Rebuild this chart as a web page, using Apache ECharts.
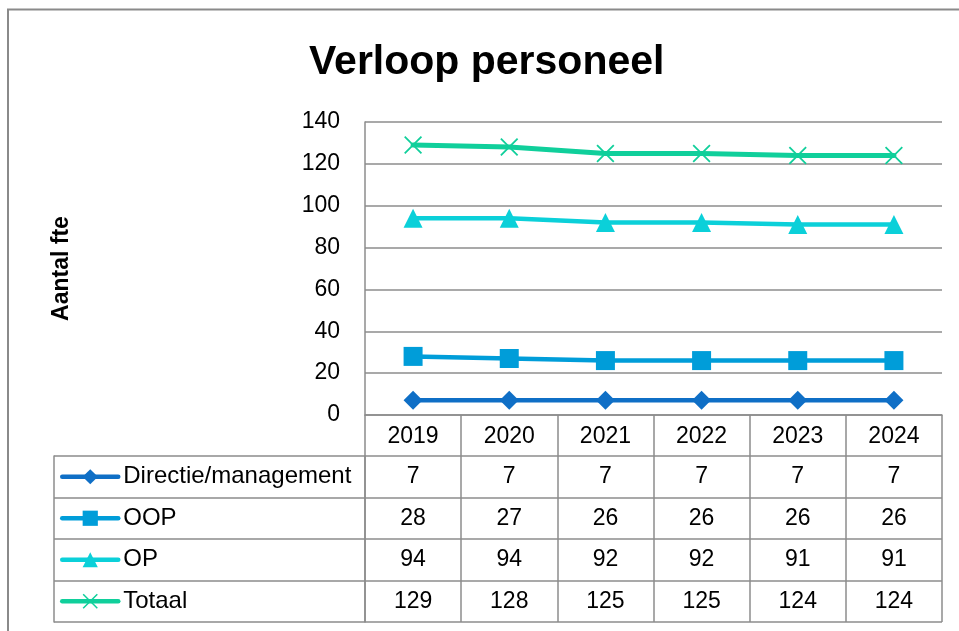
<!DOCTYPE html>
<html>
<head>
<meta charset="utf-8">
<script src="https://cdn.jsdelivr.net/npm/echarts@6/dist/echarts.min.js"></script>
<style>
html,body{margin:0;padding:0;background:#fff;}
#chart{width:959px;height:631px;}
</style>
</head>
<body>
<div id="chart"></div>
<script>
const years = ['2019', '2020', '2021', '2022', '2023', '2024'];
const seriesNames = ['Directie/management', 'OOP', 'OP', 'Totaal'];
const directie = [7, 7, 7, 7, 7, 7];
const oop = [28, 27, 26, 26, 26, 26];
const op = [94, 94, 92, 92, 91, 91];
const totaal = [129, 128, 125, 125, 124, 124];
const yTicks = { min: 0, max: 140, interval: 20 };

const colors = ['#0F6FC6', '#009DD9', '#0BD0D9', '#10CF9B'];
const gridGray = '#8c8c8c';
const FONT = 'Liberation Sans';
const xPath = 'path://M0,1.4 L1.4,0 L10,8.6 L18.6,0 L20,1.4 L11.4,10 L20,18.6 L18.6,20 L10,11.4 L1.4,20 L0,18.6 L8.6,10 Z';

const allValues = [directie, oop, op, totaal];
const tableData = [];
allValues.forEach((arr, r) => arr.forEach((v, c) => tableData.push([c, r, v])));

const symbols = ['diamond', 'rect', 'triangle', xPath];
const sizes = [19, 19, 19, 18];
const lineSeries = allValues.map((arr, i) => ({
  name: seriesNames[i],
  type: 'line',
  xAxisIndex: 0,
  yAxisIndex: 0,
  data: arr,
  symbol: symbols[i],
  symbolSize: sizes[i],
  showAllSymbol: true,
  lineStyle: { color: colors[i], width: i === 3 ? 5 : 4.5, cap: 'round' },
  itemStyle: { color: colors[i] },
  emphasis: { disabled: true },
  z: 3 + i
}));

const chart = echarts.init(document.getElementById('chart'), null, { renderer: 'canvas' });
chart.setOption({
  animation: false,
  backgroundColor: '#fff',
  textStyle: { fontFamily: FONT },
  title: {
    text: 'Verloop personeel',
    left: 309,
    top: 42,
    padding: 0,
    textStyle: { fontFamily: FONT, fontWeight: 'bold', fontSize: 41, color: '#000' }
  },
  graphic: [{
    type: 'rect',
    shape: { x: 8, y: 9.5, width: 1000, height: 700 },
    style: { fill: 'none', stroke: '#8a8a8a', lineWidth: 2 },
    silent: true
  }],
  legend: {
    data: seriesNames,
    orient: 'vertical',
    left: 60,
    top: 456,
    padding: 0,
    itemGap: 0,
    itemWidth: 56,
    itemHeight: 19,
    selectedMode: false,
    lineStyle: { width: 4.5, cap: 'round' },
    textStyle: { fontFamily: FONT, fontSize: 24, color: '#000', lineHeight: 41.5 }
  },
  grid: [
    { left: 365, right: 17, top: 122, bottom: 216 },
    { left: 365, right: 17, top: 456, bottom: 9 }
  ],
  xAxis: [
    {
      type: 'category', gridIndex: 0, data: years, boundaryGap: true,
      axisLine: { show: true, lineStyle: { color: gridGray, width: 1.5 } },
      axisTick: { show: true, length: 41, inside: false, lineStyle: { color: gridGray, width: 1.5 } },
      axisLabel: { fontFamily: FONT, fontSize: 23, color: '#000', margin: 10 },
      splitLine: { show: false }
    },
    {
      type: 'category', gridIndex: 1, data: years, boundaryGap: true,
      axisLine: { show: false }, axisTick: { show: false }, axisLabel: { show: false },
      splitLine: { show: true, lineStyle: { color: gridGray, width: 1.5 } }
    }
  ],
  yAxis: [
    {
      type: 'value', gridIndex: 0, min: yTicks.min, max: yTicks.max, interval: yTicks.interval,
      name: 'Aantal fte', nameLocation: 'middle', nameGap: 292, nameRotate: 90,
      nameTextStyle: { fontFamily: FONT, fontWeight: 'bold', fontSize: 23, color: '#000' },
      axisLine: { show: true, lineStyle: { color: gridGray, width: 1.5 } },
      axisTick: { show: false },
      axisLabel: { fontFamily: FONT, fontSize: 23, color: '#000', margin: 25 },
      splitLine: { show: true, lineStyle: { color: gridGray, width: 1.5 } }
    },
    {
      type: 'category', gridIndex: 1, data: seriesNames, inverse: true, boundaryGap: true,
      axisLine: { show: true, lineStyle: { color: gridGray, width: 1.5 } },
      axisTick: { show: true, length: 311, inside: false, lineStyle: { color: gridGray, width: 1.5 } },
      axisLabel: { show: false },
      splitLine: { show: true, lineStyle: { color: gridGray, width: 1.5 } }
    },
    {
      type: 'category', gridIndex: 1, data: seriesNames, inverse: true, position: 'left', offset: 311,
      axisLine: { show: true, lineStyle: { color: gridGray, width: 1.5 } },
      axisTick: { show: false }, axisLabel: { show: false }, splitLine: { show: false }
    }
  ],
  series: lineSeries.concat([{
    name: 'tabel',
    type: 'scatter',
    xAxisIndex: 1,
    yAxisIndex: 1,
    data: tableData,
    symbol: 'rect',
    symbolSize: 1,
    itemStyle: { color: 'rgba(0,0,0,0)', opacity: 1 },
    label: {
      show: true, position: 'inside', formatter: p => String(p.value[2]),
      fontFamily: FONT, fontSize: 23, color: '#000', opacity: 1
    },
    emphasis: { disabled: true },
    silent: true
  }])
});
</script>
</body>
</html>
